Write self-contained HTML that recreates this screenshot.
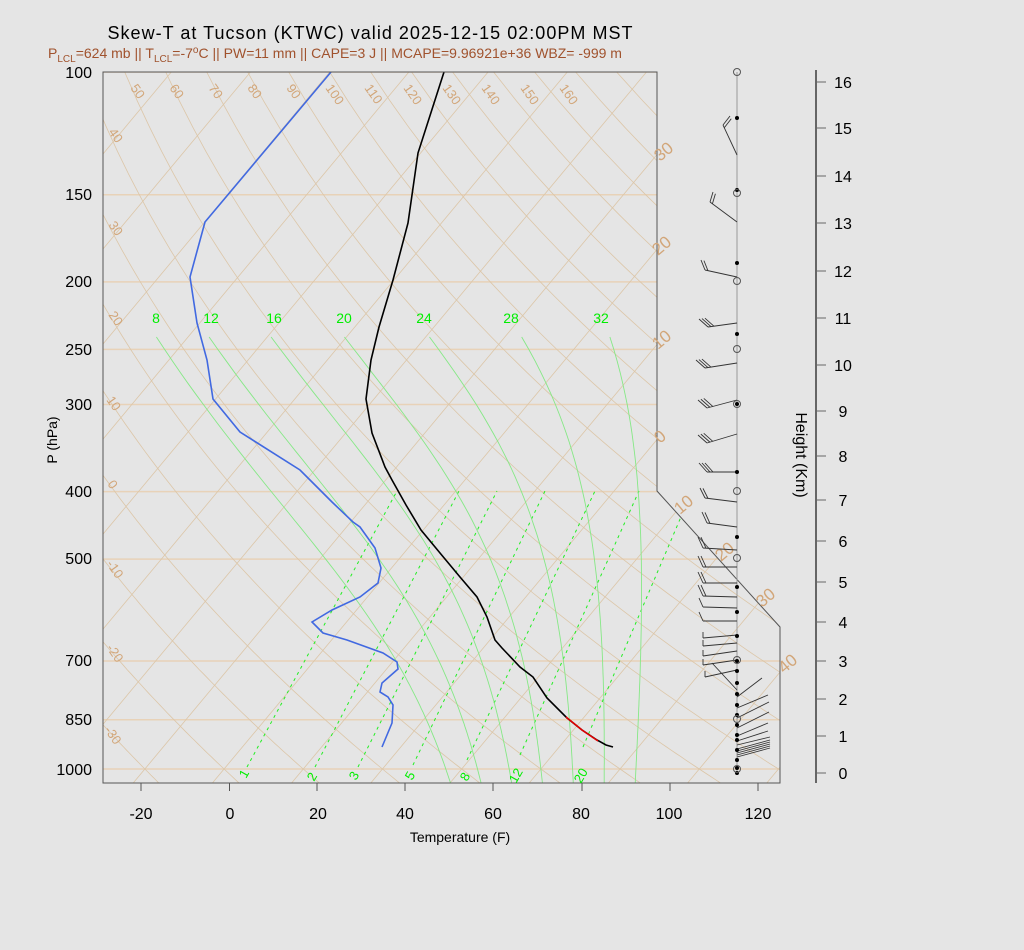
<!DOCTYPE html>
<html><head><meta charset="utf-8"><style>
html,body{margin:0;padding:0;background:#e5e5e5;}
svg{display:block;font-family:"Liberation Sans",sans-serif;}
</style></head><body>
<svg id="s" width="1024" height="950" viewBox="0 0 1024 950" xmlns="http://www.w3.org/2000/svg">
<rect width="1024" height="950" fill="#e5e5e5"/>
<defs><clipPath id="cp"><polygon points="103,72 657,72 657,491 780,627 780,783 103,783"/></clipPath></defs>
<g id="grid" clip-path="url(#cp)"></g>
<g id="prof" clip-path="url(#cp)">
<polyline fill="none" stroke="#4169e1" stroke-width="1.6" points="331,72 205,222 190,277 197,323 207,360 213,399 240,432 300,470 310,480 332,502 353,522 360,527 375,548 381,568 378,583 360,597 332,610 312,622 323,633 347,640 383,653 397,662 398,669 382,683 380,692 388,697 393,705 392,723 382,747"/>
<polyline fill="none" stroke="#000" stroke-width="1.6" points="444,72 418,153 408,223 393,280 379,327 371,360 366,399 372,433 385,467 392,480 406,505 421,530 440,553 460,577 477,597 487,617 495,640 502,648 520,667 533,677 547,698 567,718 582,730 597,740 606,745 613,747"/>
<polyline fill="none" stroke="#e00000" stroke-width="1.6" points="566,717 582,730 598,741"/>
</g>
<polygon points="103,72 657,72 657,491 780,627 780,783 103,783" fill="none" stroke="#555" stroke-width="1"/>
<g fill="#d2a679" font-size="13">
<text transform="translate(130,88) rotate(55)">50</text>
<text transform="translate(169,88) rotate(55)">60</text>
<text transform="translate(208,88) rotate(55)">70</text>
<text transform="translate(247,88) rotate(55)">80</text>
<text transform="translate(286,88) rotate(55)">90</text>
<text transform="translate(325,88) rotate(55)">100</text>
<text transform="translate(364,88) rotate(55)">110</text>
<text transform="translate(403,88) rotate(55)">120</text>
<text transform="translate(442,88) rotate(55)">130</text>
<text transform="translate(481,88) rotate(55)">140</text>
<text transform="translate(520,88) rotate(55)">150</text>
<text transform="translate(559,88) rotate(55)">160</text>
<text transform="translate(108,132) rotate(55)">40</text>
<text transform="translate(108,225) rotate(55)">30</text>
<text transform="translate(108,315) rotate(55)">20</text>
<text transform="translate(106,400) rotate(55)">10</text>
<text transform="translate(107,484) rotate(55)">0</text>
<text transform="translate(106,564) rotate(55)">-10</text>
<text transform="translate(106,648) rotate(55)">-20</text>
<text transform="translate(104,730) rotate(55)">-30</text>
</g>
<g fill="#d2a679" font-size="17">
<text transform="translate(660,162) rotate(-40)">30</text>
<text transform="translate(658,256) rotate(-40)">20</text>
<text transform="translate(658,350) rotate(-40)">10</text>
<text transform="translate(660,444) rotate(-40)">0</text>
<text transform="translate(680,515) rotate(-40)">10</text>
<text transform="translate(721,562) rotate(-40)">20</text>
<text transform="translate(762,608) rotate(-40)">30</text>
<text transform="translate(784,674) rotate(-40)">40</text>
</g>
<g fill="#00ee00" font-size="14" text-anchor="middle">
<text x="156" y="323">8</text><text x="211" y="323">12</text><text x="274" y="323">16</text>
<text x="344" y="323">20</text><text x="424" y="323">24</text><text x="511" y="323">28</text><text x="601" y="323">32</text>
</g>
<g fill="#00ee00" font-size="13">
<text transform="translate(246,779) rotate(-60)">1</text>
<text transform="translate(314,782) rotate(-60)">2</text>
<text transform="translate(356,781) rotate(-60)">3</text>
<text transform="translate(412,781) rotate(-60)">5</text>
<text transform="translate(467,782) rotate(-60)">8</text>
<text transform="translate(516,784) rotate(-60)">12</text>
<text transform="translate(581,784) rotate(-60)">20</text>
</g>
<text x="370" y="39" font-size="18" text-anchor="middle" textLength="525" fill="#000">Skew-T at Tucson (KTWC) valid 2025-12-15 02:00PM MST</text>
<text x="48" y="58" font-size="14" fill="#a0522d">P<tspan font-size="10" dy="4">LCL</tspan><tspan dy="-4">=624 mb || T</tspan><tspan font-size="10" dy="4">LCL</tspan><tspan dy="-4">=-7</tspan><tspan font-size="10" dy="-5">o</tspan><tspan dy="5">C || PW=11 mm || CAPE=3 J || MCAPE=9.96921e+36 WBZ= -999 m</tspan></text>
<g font-size="16" text-anchor="end" fill="#000">
<text x="92" y="78">100</text><text x="92" y="200">150</text><text x="92" y="287">200</text>
<text x="92" y="355">250</text><text x="92" y="410">300</text><text x="92" y="497">400</text>
<text x="92" y="564">500</text><text x="92" y="666">700</text><text x="92" y="725">850</text><text x="92" y="775">1000</text>
</g>
<text transform="translate(57,440) rotate(-90)" font-size="14" text-anchor="middle">P (hPa)</text>
<g stroke="#555" stroke-width="1">
<line x1="141" y1="783" x2="141" y2="791"/><line x1="229.5" y1="783" x2="229.5" y2="791"/><line x1="317" y1="783" x2="317" y2="791"/><line x1="405" y1="783" x2="405" y2="791"/><line x1="493" y1="783" x2="493" y2="791"/><line x1="582" y1="783" x2="582" y2="791"/><line x1="670" y1="783" x2="670" y2="791"/><line x1="758" y1="783" x2="758" y2="791"/>
</g>
<g font-size="16" text-anchor="middle">
<text x="141" y="819">-20</text><text x="230" y="819">0</text><text x="318" y="819">20</text><text x="405" y="819">40</text><text x="493" y="819">60</text><text x="581" y="819">80</text><text x="669" y="819">100</text><text x="758" y="819">120</text>
</g>
<text x="460" y="842" font-size="14" text-anchor="middle">Temperature (F)</text>
<line x1="816" y1="70" x2="816" y2="783" stroke="#666" stroke-width="2"/>
<g id="hax" font-size="16"></g>
<text transform="translate(796,455) rotate(90)" font-size="16" text-anchor="middle">Height (Km)</text>
<line x1="737" y1="72" x2="737" y2="775" stroke="#999" stroke-width="1"/>
<g id="barbs" stroke="#333" stroke-width="0.9" fill="none"></g>
<g id="dots"></g>
</svg>
<script>
var NS="http://www.w3.org/2000/svg";
function el(p,t,a){var e=document.createElementNS(NS,t);for(var k in a)e.setAttribute(k,a[k]);p.appendChild(e);return e;}
function yP(p){return 72+302.7*Math.log(p/100);}
function xT(tc,y){return 230+4.4*(tc*1.8+32)+(783-y)/1.2;}
var g=document.getElementById("grid");
[100,150,200,250,300,400,500,700,850,1000].forEach(function(p){var y=yP(p);el(g,"line",{x1:103,x2:780,y1:y,y2:y,stroke:"#e8d2b8","stroke-width":1.5});});
for(var t=-140;t<=60;t+=10){el(g,"line",{x1:xT(t,783),y1:783,x2:xT(t,72),y2:72,stroke:"#dcc6a8","stroke-width":0.8});}
for(var th=-60;th<=220;th+=10){var pts=[];for(var p=100;p<=1060;p+=10){var T=(th+273.15)*Math.pow(p/1000,0.286)-273.15;var y=yP(p);pts.push(xT(T,y).toFixed(1)+","+y.toFixed(1));}
 el(g,"polyline",{points:pts.join(" "),fill:"none",stroke:"#dcc6a8","stroke-width":0.8});}
[[247,767,397],[315,767,459],[358,767,497],[413,765,545],[467,760,595],[520,755,639],[583,747,692]].forEach(function(a){el(g,"line",{x1:a[0],y1:a[1],x2:a[2],y2:491,stroke:"#22ee22","stroke-width":1,"stroke-dasharray":"3,4"});});
function es(tc){return 6.112*Math.exp(17.67*tc/(tc+243.5));}
function dTdp(T,p){var e=es(T-273.15),rs=0.622*e/(p-e),Rd=287,Lv=2.5e6,cp=1004;return (Rd*T+Lv*rs)/(p*(cp+Lv*Lv*rs*0.622/(Rd*T*T)));}
for(var w=8;w<=32;w+=4){var T=w+273.15,p=1000,pts=[];var T2=T;for(var q=1000;q<1050;q+=1){T2+=dTdp(T2,q)*1;}
 pts.push(xT(T2-273.15,yP(1050)).toFixed(1)+","+yP(1050).toFixed(1));
 var pts2=[];T=w+273.15;for(p=1000;p>=232;p-=1){if(p%10==0){var y=yP(p);pts2.push(xT(T-273.15,y).toFixed(1)+","+y.toFixed(1));}T-=dTdp(T,p)*1;}
 el(g,"polyline",{points:pts.concat(pts2).join(" "),fill:"none",stroke:"#86e886","stroke-width":0.9});}
var h=document.getElementById("hax");
var hy=[773,736,699,661,622,582,541,500,456,411,365,318,271,223,176,128,82];
hy.forEach(function(y,i){el(h,"line",{x1:816,x2:826,y1:y,y2:y,stroke:"#666","stroke-width":1});var t=el(h,"text",{x:843,y:y+6,"text-anchor":"middle"});t.textContent=i;});
var b=document.getElementById("barbs");
// [baseY, endX, endY, nTicks, tickDx, tickDy]
var up=[[155,723,125,2,7,-9],[222,710,202,2,3,-10],[277,705,270,2,-4,-10],[323,708,327,3,-9,-8],[363,705,368,3,-9,-8],[400,707,408,3,-9,-8],[434,707,443,3,-9,-8],[472,707,472,3,-8,-9],[502,705,498,2,-5,-10],[527,707,523,2,-5,-11],[550,703,548,2,-5,-11],[567,703,567,2,-5,-11],[583,703,583,2,-5,-11],[597,703,596,2,-5,-11],[608,703,607,1,-4,-9],[621,703,621,1,-4,-9],[635,703,638,1,0,-6],[643,703,646,1,0,-6],[651,703,656,1,0,-6],[660,703,665,1,0,-6],[670,705,677,1,0,-6]];
up.forEach(function(a){el(b,"line",{x1:737,y1:a[0],x2:a[1],y2:a[2]});var dx=a[1]-737,dy=a[2]-a[0],L=Math.sqrt(dx*dx+dy*dy),ux=dx/L,uy=dy/L;
 for(var k=0;k<a[3];k++){var sx=a[1]-ux*k*3,sy=a[2]-uy*k*3;el(b,"line",{x1:sx,y1:sy,x2:sx+a[4],y2:sy+a[5]});}});
el(b,"line",{x1:712,y1:663,x2:737,y2:690});
[[697,762,678],[708,768,695],[718,769,702],[728,769,712],[736,768,723],[741,768,731],[745,770,737],[749,770,740],[751,770,742],[753,770,744],[755,770,746],[757,770,748]].forEach(function(a){el(b,"line",{x1:737,y1:a[0],x2:a[1],y2:a[2]});});
var d=document.getElementById("dots");
[118,190,263,334,404,472,537,587,612,636,661,671,683,694,705,715,725,735,740,750,760,768,773].forEach(function(y){el(d,"circle",{cx:737,cy:y,r:2,fill:"#000"});});
[72,193,281,349,404,491,558,660,719,769].forEach(function(y){el(d,"circle",{cx:737,cy:y,r:3.5,fill:"none",stroke:"#555","stroke-width":1});});
</script>
</body></html>
